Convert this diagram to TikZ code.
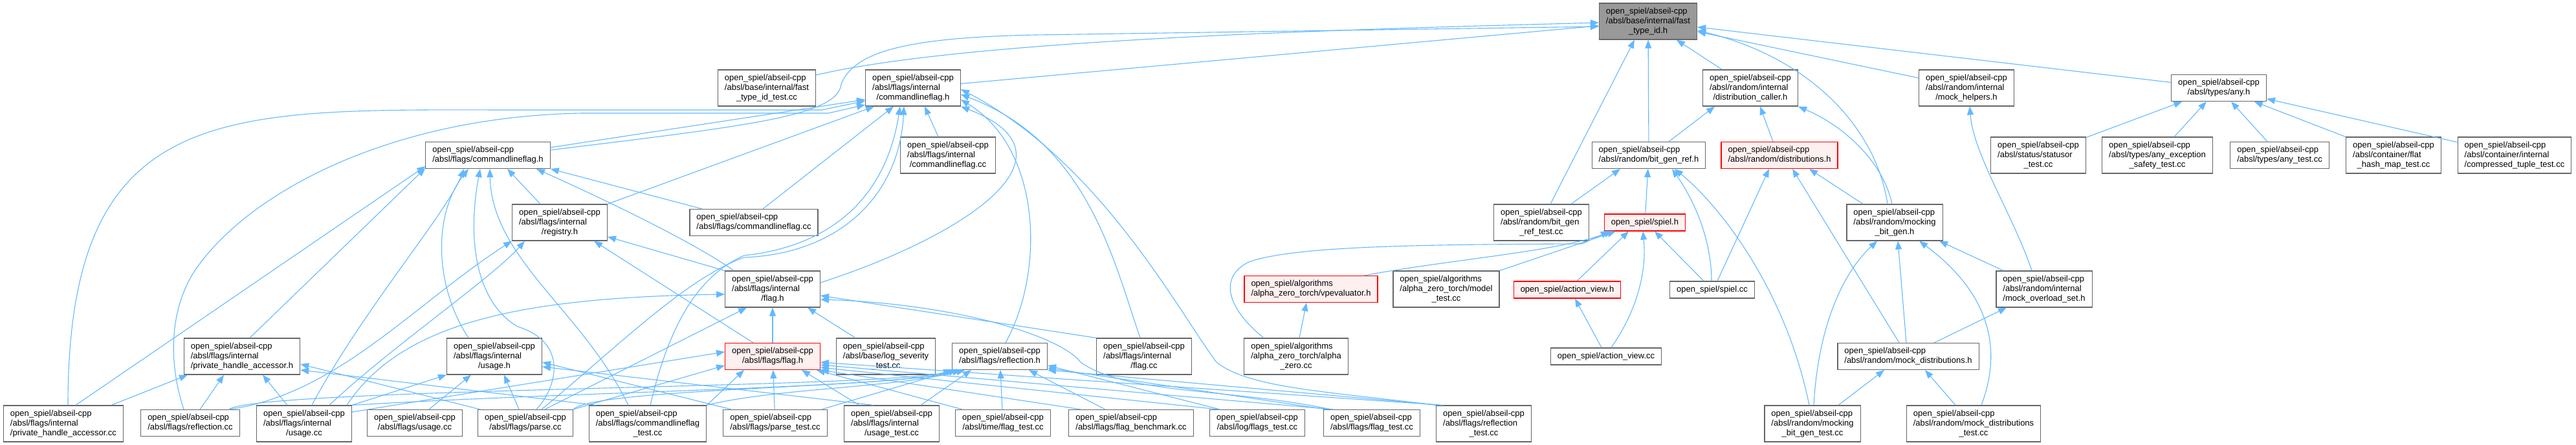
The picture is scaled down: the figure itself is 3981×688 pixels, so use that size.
\documentclass[tikz,border=0pt]{standalone}
\usepackage{fontspec}
\setmainfont{Liberation Sans}
\usetikzlibrary{arrows.meta}

\definecolor{edgeblue}{HTML}{63B8FF}
\definecolor{boxgray}{HTML}{666666}
\definecolor{rootgray}{HTML}{999999}
\definecolor{truncpink}{HTML}{FFF0F0}

% labels: leading lines flush left, last line centred
\newcommand{\onel}[1]{\begin{tabular}{@{}c@{}}#1\end{tabular}}
\newcommand{\twol}[2]{\begin{tabular}{@{}l@{}}#1\\\multicolumn{1}{@{}c@{}}{#2}\end{tabular}}
\newcommand{\threel}[3]{\begin{tabular}{@{}l@{}}#1\\#2\\\multicolumn{1}{@{}c@{}}{#3}\end{tabular}}

\begin{document}
\begin{tikzpicture}[x=1pt, y=-1pt,
    file/.style={rectangle, draw=boxgray, line width=1.2pt, fill=white, inner xsep=10.5pt, inner ysep=5.5pt, font=\fontsize{13}{15}\selectfont},
    root/.style={file, fill=rootgray},
    trunc/.style={file, draw=red, fill=truncpink},
    arrow/.style={draw=edgeblue, line width=1.1pt, -{Triangle[length=13pt,width=10pt]}}
]
\useasboundingbox (0,0) rectangle (3981,688);

% Root header
\node[root] (fast_type_id) at (2547,33) {\threel{open\_spiel/abseil-cpp}{/absl/base/internal/fast}{\_type\_id.h}};

% First rank
\node[file] (fast_id_test) at (1185,136) {\threel{open\_spiel/abseil-cpp}{/absl/base/internal/fast}{\_type\_id\_test.cc}};
\node[file] (int_cmdflag_h) at (1411,136) {\threel{open\_spiel/abseil-cpp}{/absl/flags/internal}{/commandlineflag.h}};
\node[file] (dist_caller) at (2705,136) {\threel{open\_spiel/abseil-cpp}{/absl/random/internal}{/distribution\_caller.h}};
\node[file] (mock_helpers) at (3039,136) {\threel{open\_spiel/abseil-cpp}{/absl/random/internal}{/mock\_helpers.h}};
\node[file] (any_h) at (3429,136) {\twol{open\_spiel/abseil-cpp}{/absl/types/any.h}};

% Second rank
\node[file] (cmdflag_h) at (754,240) {\twol{open\_spiel/abseil-cpp}{/absl/flags/commandlineflag.h}};
\node[file] (int_cmdflag_cc) at (1465,240) {\threel{open\_spiel/abseil-cpp}{/absl/flags/internal}{/commandlineflag.cc}};
\node[file] (bit_gen_ref) at (2548,240) {\twol{open\_spiel/abseil-cpp}{/absl/random/bit\_gen\_ref.h}};
\node[trunc] (distributions) at (2750,240) {\twol{open\_spiel/abseil-cpp}{/absl/random/distributions.h}};
\node[file] (statusor_test) at (3150,240) {\threel{open\_spiel/abseil-cpp}{/absl/status/statusor}{\_test.cc}};
\node[file] (any_exc_test) at (3334,240) {\threel{open\_spiel/abseil-cpp}{/absl/types/any\_exception}{\_safety\_test.cc}};
\node[file] (any_test) at (3523,240) {\twol{open\_spiel/abseil-cpp}{/absl/types/any\_test.cc}};
\node[file] (flat_hash_test) at (3699,240) {\threel{open\_spiel/abseil-cpp}{/absl/container/flat}{\_hash\_map\_test.cc}};
\node[file] (comp_tuple_test) at (3886,240) {\threel{open\_spiel/abseil-cpp}{/absl/container/internal}{/compressed\_tuple\_test.cc}};

% Third rank
\node[file] (registry_h) at (865,344) {\threel{open\_spiel/abseil-cpp}{/absl/flags/internal}{/registry.h}};
\node[file] (cmdflag_cc) at (1165,344) {\twol{open\_spiel/abseil-cpp}{/absl/flags/commandlineflag.cc}};
\node[file] (bit_gen_ref_test) at (2382,344) {\threel{open\_spiel/abseil-cpp}{/absl/random/bit\_gen}{\_ref\_test.cc}};
\node[trunc] (spiel_h) at (2542,344) {\onel{open\_spiel/spiel.h}};
\node[file] (mocking_bit_gen) at (2928,344) {\threel{open\_spiel/abseil-cpp}{/absl/random/mocking}{\_bit\_gen.h}};

% Fourth rank
\node[file] (int_flag_h) at (1194,447) {\threel{open\_spiel/abseil-cpp}{/absl/flags/internal}{/flag.h}};
\node[trunc] (vpevaluator) at (2026,447) {\twol{open\_spiel/algorithms}{/alpha\_zero\_torch/vpevaluator.h}};
\node[file] (model_test) at (2235,447) {\threel{open\_spiel/algorithms}{/alpha\_zero\_torch/model}{\_test.cc}};
\node[trunc] (action_view_h) at (2422,448) {\onel{open\_spiel/action\_view.h}};
\node[file] (spiel_cc) at (2646,448) {\onel{open\_spiel/spiel.cc}};
\node[file] (mock_overload) at (3159,447) {\threel{open\_spiel/abseil-cpp}{/absl/random/internal}{/mock\_overload\_set.h}};

% Fifth rank
\node[file] (pha_h) at (374,551) {\threel{open\_spiel/abseil-cpp}{/absl/flags/internal}{/private\_handle\_accessor.h}};
\node[file] (int_usage_h) at (764,551) {\threel{open\_spiel/abseil-cpp}{/absl/flags/internal}{/usage.h}};
\node[trunc] (flag_h) at (1194,551) {\twol{open\_spiel/abseil-cpp}{/absl/flags/flag.h}};
\node[file] (log_sev_test) at (1369,551) {\threel{open\_spiel/abseil-cpp}{/absl/base/log\_severity}{\_test.cc}};
\node[file] (reflection_h) at (1545,551) {\twol{open\_spiel/abseil-cpp}{/absl/flags/reflection.h}};
\node[file] (int_flag_cc) at (1768,551) {\threel{open\_spiel/abseil-cpp}{/absl/flags/internal}{/flag.cc}};
\node[file] (alpha_zero) at (2003,551) {\threel{open\_spiel/algorithms}{/alpha\_zero\_torch/alpha}{\_zero.cc}};
\node[file] (action_view_cc) at (2482,551) {\onel{open\_spiel/action\_view.cc}};
\node[file] (mock_dist) at (2949,551) {\twol{open\_spiel/abseil-cpp}{/absl/random/mock\_distributions.h}};

% Bottom rank
\node[file] (pha_cc) at (98,655) {\threel{open\_spiel/abseil-cpp}{/absl/flags/internal}{/private\_handle\_accessor.cc}};
\node[file] (reflection_cc) at (294,654) {\twol{open\_spiel/abseil-cpp}{/absl/flags/reflection.cc}};
\node[file] (int_usage_cc) at (470,655) {\threel{open\_spiel/abseil-cpp}{/absl/flags/internal}{/usage.cc}};
\node[file] (usage_cc) at (641,654) {\twol{open\_spiel/abseil-cpp}{/absl/flags/usage.cc}};
\node[file] (parse_cc) at (812,654) {\twol{open\_spiel/abseil-cpp}{/absl/flags/parse.cc}};
\node[file] (cmdflag_test) at (1001,655) {\threel{open\_spiel/abseil-cpp}{/absl/flags/commandlineflag}{\_test.cc}};
\node[file] (parse_test) at (1198,654) {\twol{open\_spiel/abseil-cpp}{/absl/flags/parse\_test.cc}};
\node[file] (usage_test) at (1378,655) {\threel{open\_spiel/abseil-cpp}{/absl/flags/internal}{/usage\_test.cc}};
\node[file] (time_flag_test) at (1550,654) {\twol{open\_spiel/abseil-cpp}{/absl/time/flag\_test.cc}};
\node[file] (flag_bench) at (1748,654) {\twol{open\_spiel/abseil-cpp}{/absl/flags/flag\_benchmark.cc}};
\node[file] (log_flags_test) at (1943,654) {\twol{open\_spiel/abseil-cpp}{/absl/log/flags\_test.cc}};
\node[file] (flag_test) at (2120,654) {\twol{open\_spiel/abseil-cpp}{/absl/flags/flag\_test.cc}};
\node[file] (reflection_test) at (2293,655) {\threel{open\_spiel/abseil-cpp}{/absl/flags/reflection}{\_test.cc}};
\node[file] (mocking_bit_gen_test) at (2801,655) {\threel{open\_spiel/abseil-cpp}{/absl/random/mocking}{\_bit\_gen\_test.cc}};
\node[file] (mock_dist_test) at (3050,655) {\threel{open\_spiel/abseil-cpp}{/absl/random/mock\_distributions}{\_test.cc}};

% Arrows into fast_type_id.h
\draw[arrow] ([yshift=20pt]fast_id_test.east) .. controls (1500,60) and (2100,45) .. ([yshift=-2pt]fast_type_id.west);
\draw[arrow] (int_cmdflag_h) -- (fast_type_id);
\draw[arrow] ([yshift=8pt]cmdflag_h.east) .. controls (1150,195) and (1295,180) .. (1300,130) .. controls (1320,80) and (1400,58) .. (1600,54) -- ([yshift=-8pt]fast_type_id.west);
\draw[arrow] (bit_gen_ref) -- (fast_type_id);
\draw[arrow] ([xshift=14pt]bit_gen_ref_test.north) -- ([xshift=-21pt]fast_type_id.south);
\draw[arrow] (dist_caller) -- (fast_type_id);
\draw[arrow] ([xshift=-11pt]mocking_bit_gen.north) .. controls (2900,200) and (2800,90) .. ([yshift=-14pt]fast_type_id.east);
\draw[arrow] (mock_helpers) -- (fast_type_id);
\draw[arrow] (any_h) -- (fast_type_id);

% Arrows into internal/commandlineflag.h
\draw[arrow] ([yshift=12pt]cmdflag_h.east) -- ([yshift=-18pt]int_cmdflag_h.west);
\draw[arrow] ([xshift=7pt]pha_cc.north) .. controls (105,150) and (350,170) .. (800,170) -- (1270,170) -- ([yshift=-20pt]int_cmdflag_h.west);
\draw[arrow] ([xshift=-10pt]reflection_cc.north) .. controls (260,560) and (262,480) .. (300,420) .. controls (380,300) and (600,180) .. (900,175) -- (1280,175) -- ([yshift=-26pt]int_cmdflag_h.west);
\draw[arrow] ([xshift=-15pt]int_cmdflag_cc.north) -- ([xshift=18pt]int_cmdflag_h.south);
\draw[arrow] ([xshift=14pt]cmdflag_cc.north) -- ([xshift=-30pt]int_cmdflag_h.south);
\draw[arrow] (registry_h.north east) -- ([xshift=-60pt]int_cmdflag_h.south);
\draw[arrow] ([yshift=10pt]int_flag_h.east) .. controls (1490,365) and (1680,240) .. (int_cmdflag_h.south east);
\draw[arrow] ([xshift=9pt]reflection_h.north) .. controls (1615,420) and (1610,230) .. ([yshift=-18pt]int_cmdflag_h.east);
\draw[arrow] ([xshift=-6pt]int_flag_cc.north) .. controls (1720,400) and (1680,220) .. ([yshift=-10pt]int_cmdflag_h.east);
\draw[arrow] (reflection_test.north west) .. controls (2050,605) and (1930,600) .. (1880,560) .. controls (1820,480) and (1700,250) .. ([yshift=-2pt]int_cmdflag_h.east);
\draw[arrow] ([xshift=4pt]cmdflag_test.north) .. controls (1030,520) and (1070,430) .. (1150,395) .. controls (1290,380) and (1370,300) .. ([xshift=-20pt]int_cmdflag_h.south);
\draw[arrow] ([xshift=25pt]parse_cc.north) .. controls (950,540) and (1060,430) .. (1150,398) .. controls (1300,392) and (1390,300) .. ([xshift=-14pt]int_cmdflag_h.south);

% Arrows into flags/commandlineflag.h
\draw[arrow] ([xshift=19pt]pha_cc.north) -- ([yshift=-17pt]cmdflag_h.west);
\draw[arrow] ([xshift=12pt]pha_h.north) -- ([yshift=-20pt]cmdflag_h.west);
\draw[arrow] ([xshift=12pt]int_usage_cc.north) .. controls (560,480) and (690,330) .. ([xshift=-37pt]cmdflag_h.south);
\draw[arrow] ([xshift=-40pt]int_usage_h.north) .. controls (670,440) and (670,330) .. ([xshift=-30pt]cmdflag_h.south);
\draw[arrow] ([xshift=17pt]parse_cc.north) .. controls (860,600) and (880,530) .. (800,505) .. controls (740,470) and (720,380) .. ([xshift=-12pt]cmdflag_h.south);
\draw[arrow] ([xshift=-30pt]cmdflag_test.north) .. controls (900,480) and (760,400) .. ([xshift=3pt]cmdflag_h.south);
\draw[arrow] ([xshift=-30pt]registry_h.north) -- ([xshift=30pt]cmdflag_h.south);
\draw[arrow] ([xshift=-60pt]int_flag_h.north) .. controls (1080,380) and (960,320) .. ([xshift=75pt]cmdflag_h.south);
\draw[arrow] ([xshift=-80pt]cmdflag_cc.north) -- (cmdflag_h.south east);

% Arrows into registry.h
\draw[arrow] (int_flag_h.north west) -- ([yshift=-22pt]registry_h.east);
\draw[arrow] ([xshift=-30pt]flag_h.north) -- ([xshift=53pt]registry_h.south);
\draw[arrow] ([xshift=60pt]reflection_cc.north) .. controls (520,610) and (640,470) .. (registry_h.south west);
\draw[arrow] ([xshift=39pt]int_usage_cc.north) .. controls (600,540) and (760,430) .. ([xshift=-54pt]registry_h.south);

% Arrows into internal/flag.h
\draw[arrow] (flag_h) -- (int_flag_h);
\draw[arrow] ([xshift=-47pt]log_sev_test.north) -- ([xshift=54pt]int_flag_h.south);
\draw[arrow] (int_flag_cc.north west) -- ([yshift=-10pt]int_flag_h.east);
\draw[arrow] ([xshift=-63pt]flag_test.north) .. controls (1900,600) and (1740,610) .. (1670,560) .. controls (1640,520) and (1480,470) .. ([yshift=-16pt]int_flag_h.east);
\draw[arrow] ([xshift=-8pt]int_usage_cc.north east) .. controls (620,500) and (800,460) .. ([yshift=-8pt]int_flag_h.west);
\draw[arrow] ([xshift=30pt]parse_cc.north) -- ([xshift=-40pt]int_flag_h.south);

% Arrows into internal/usage.h
\draw[arrow] (int_usage_cc.north east) -- (int_usage_h.south west);
\draw[arrow] ([xshift=22pt]usage_cc.north) -- ([xshift=-36pt]int_usage_h.south);
\draw[arrow] ([xshift=-10pt]parse_cc.north) -- ([xshift=15pt]int_usage_h.south);
\draw[arrow] ([xshift=-68pt]parse_test.north) -- ([yshift=-9pt]int_usage_h.east);
\draw[arrow] ([xshift=-28pt]usage_test.north) -- ([yshift=-16pt]int_usage_h.east);

% Arrows into flags/flag.h
\draw[arrow] ([yshift=18pt]int_usage_cc.east) -- ([yshift=7pt]flag_h.west);
\draw[arrow] (parse_cc.north east) -- ([yshift=-14pt]flag_h.west);
\draw[arrow] (cmdflag_test.north east) -- ([xshift=-44pt]flag_h.south);
\draw[arrow] (parse_test) -- (flag_h);
\draw[arrow] ([xshift=-50pt]usage_test.north) -- ([xshift=45pt]flag_h.south);
\draw[arrow] ([xshift=-63pt]time_flag_test.north) -- ([xshift=-6pt]flag_h.south east);
\draw[arrow] ([xshift=-78pt]flag_bench.north) -- (flag_h.south east);
\draw[arrow] ([xshift=-60pt]log_flags_test.north) -- ([yshift=4pt]flag_h.south east);
\draw[arrow] ([xshift=-60pt]flag_test.north) -- ([yshift=8pt]flag_h.south east);
\draw[arrow] ([xshift=-63pt]reflection_test.north) -- ([yshift=12pt]flag_h.south east);

% Arrows into private_handle_accessor.h
\draw[arrow] ([xshift=74pt]pha_cc.north) -- ([xshift=-84pt]pha_h.south);
\draw[arrow] ([xshift=15pt]reflection_cc.north) -- ([xshift=-28pt]pha_h.south);
\draw[arrow] ([xshift=-26pt]int_usage_cc.north) -- ([xshift=32pt]pha_h.south);
\draw[arrow] ([xshift=-70pt]parse_cc.north) -- ([yshift=-12pt]pha_h.east);
\draw[arrow] ([xshift=-80pt]cmdflag_test.north) -- ([yshift=-21pt]pha_h.east);

% Arrows into reflection.h
\draw[arrow] ([xshift=60pt]reflection_cc.north) .. controls (400,600) and (1380,600) .. (reflection_h.south west);
\draw[arrow] (int_usage_cc.north east) .. controls (900,605) and (1380,600) .. ([xshift=8pt]reflection_h.south west);
\draw[arrow] (parse_cc.north east) .. controls (920,600) and (1380,600) .. ([xshift=14pt]reflection_h.south west);
\draw[arrow] (cmdflag_test.north east) .. controls (1200,600) and (1380,600) .. ([xshift=20pt]reflection_h.south west);
\draw[arrow] ([xshift=72pt]parse_test.north) -- ([xshift=-70pt]reflection_h.south);
\draw[arrow] ([xshift=45pt]usage_test.north) -- ([xshift=-44pt]reflection_h.south);
\draw[arrow] (time_flag_test) -- (reflection_h);
\draw[arrow] ([xshift=-40pt]flag_bench.north) -- ([xshift=45pt]reflection_h.south);
\draw[arrow] ([xshift=-58pt]log_flags_test.north) -- ([yshift=-14pt]reflection_h.east);
\draw[arrow] ([xshift=-70pt]flag_test.north) -- ([yshift=-18pt]reflection_h.east);
\draw[arrow] ([xshift=-66pt]reflection_test.north) -- (reflection_h.south east);

% Open spiel headers
\draw[arrow] (spiel_h) -- (bit_gen_ref);
\draw[arrow] ([xshift=-13pt]spiel_cc.north) -- ([xshift=15pt]spiel_h.south);
\draw[arrow] ([xshift=-1pt]spiel_cc.north) .. controls (2645,380) and (2625,320) .. ([xshift=36pt]bit_gen_ref.south);
\draw[arrow] ([xshift=8pt]spiel_cc.north) -- ([xshift=-16pt]distributions.south);
\draw[arrow] ([xshift=15pt]action_view_h.north) -- ([xshift=-25pt]spiel_h.south);
\draw[arrow] ([xshift=-7pt]action_view_cc.north) -- ([xshift=12pt]action_view_h.south);
\draw[arrow] ([xshift=8pt]action_view_cc.north) .. controls (2530,480) and (2545,420) .. ([xshift=-3pt]spiel_h.south);
\draw[arrow] ([xshift=82pt]vpevaluator.north) .. controls (2250,400) and (2400,390) .. ([xshift=-50pt]spiel_h.south);
\draw[arrow] (model_test.north east) -- ([xshift=-45pt]spiel_h.south);
\draw[arrow] ([xshift=5pt]alpha_zero.north) -- ([xshift=-7pt]vpevaluator.south);
\draw[arrow] ([xshift=-50pt]alpha_zero.north) .. controls (1900,480) and (1880,430) .. (1930,405) .. controls (2000,380) and (2200,378) .. (2445,377) -- ([xshift=-55pt]spiel_h.south);

% Random library
\draw[arrow] ([xshift=46pt]bit_gen_ref_test.north) -- ([xshift=-44pt]bit_gen_ref.south);
\draw[arrow] ([xshift=31pt]bit_gen_ref.north) -- ([xshift=-55pt]dist_caller.south);
\draw[arrow] ([xshift=-10pt]distributions.north) -- ([xshift=15pt]dist_caller.south);
\draw[arrow] ([xshift=-4pt]mocking_bit_gen.north) .. controls (2910,250) and (2850,195) .. (dist_caller.south east);
\draw[arrow] ([xshift=-49pt]mocking_bit_gen.north) -- ([xshift=46pt]distributions.south);
\draw[arrow] ([xshift=-14pt]mock_dist.north) -- ([xshift=20pt]distributions.south);
\draw[arrow] ([xshift=-3pt]mock_dist.north) -- ([xshift=5pt]mocking_bit_gen.south);
\draw[arrow] ([xshift=40pt]mock_dist.north) -- ([xshift=-58pt]mock_overload.south);
\draw[arrow] ([xshift=-63pt]mock_overload.north) -- ([xshift=69pt]mocking_bit_gen.south);
\draw[arrow] ([xshift=-19pt]mock_overload.north) .. controls (3110,330) and (3050,240) .. ([xshift=5pt]mock_helpers.south);
\draw[arrow] ([xshift=-5pt]mocking_bit_gen_test.north) .. controls (2760,450) and (2660,320) .. ([xshift=40pt]bit_gen_ref.south);
\draw[arrow] ([xshift=2pt]mocking_bit_gen_test.north) .. controls (2810,500) and (2850,420) .. ([xshift=-27pt]mocking_bit_gen.south);
\draw[arrow] ([xshift=40pt]mocking_bit_gen_test.north) -- ([xshift=-37pt]mock_dist.south);
\draw[arrow] ([xshift=-28pt]mock_dist_test.north) -- ([xshift=26pt]mock_dist.south);
\draw[arrow] ([xshift=12pt]mock_dist_test.north) .. controls (3110,500) and (3030,420) .. ([xshift=38pt]mocking_bit_gen.south);

% any.h users
\draw[arrow] (statusor_test) -- (any_h);
\draw[arrow] (any_exc_test) -- (any_h);
\draw[arrow] (any_test) -- (any_h);
\draw[arrow] (flat_hash_test) -- (any_h);
\draw[arrow] (comp_tuple_test) -- (any_h);

\end{tikzpicture}
\end{document}
